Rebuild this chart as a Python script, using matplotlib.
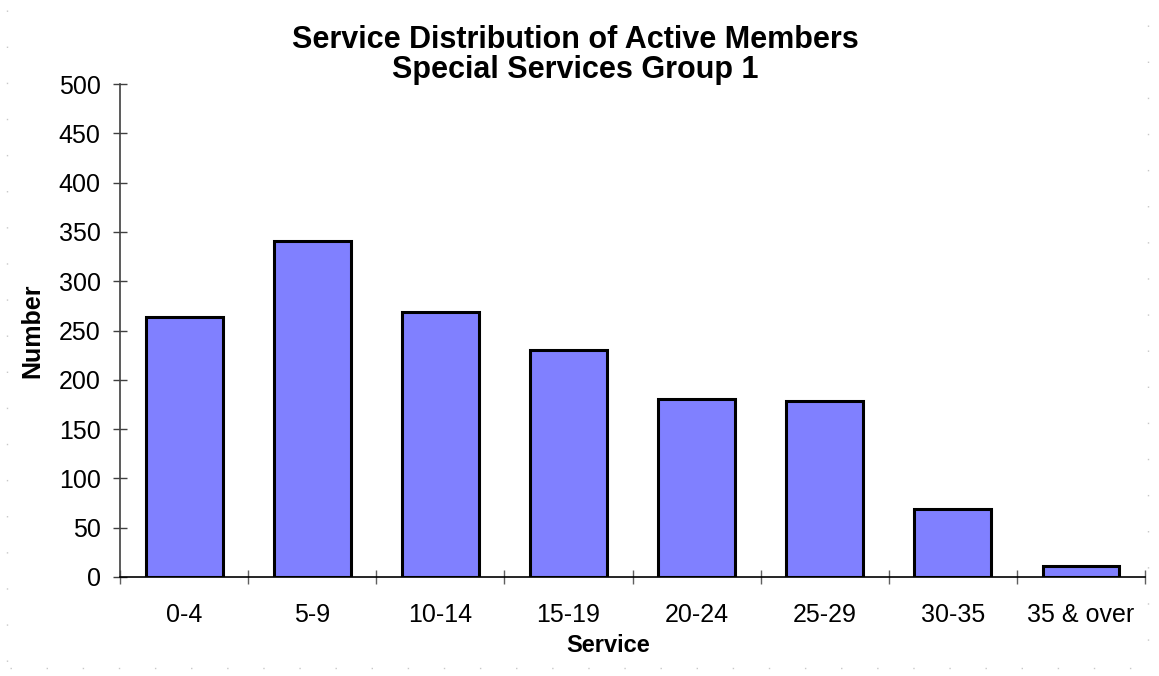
import matplotlib
matplotlib.use("Agg")
import matplotlib.pyplot as plt
from matplotlib.lines import Line2D

categories = ["0-4", "5-9", "10-14", "15-19", "20-24", "25-29", "30-35", "35 & over"]
values = [264, 341, 269, 230, 181, 179, 69, 11]
yticks = [0, 50, 100, 150, 200, 250, 300, 350, 400, 450, 500]

W, H = 1159, 676
plt.rcParams['font.family'] = ['Liberation Sans', 'DejaVu Sans']
fig = plt.figure(figsize=(W / 100, H / 100), dpi=100)
ax = fig.add_axes([120 / W, (H - 577) / H, (1145 - 120) / W, (577 - 84) / H])

x = list(range(len(categories)))
ax.bar(x, values, width=0.6, color="#8080FF", edgecolor="black", linewidth=2.2, zorder=3)

ax.set_xlim(-0.5, len(categories) - 0.5)
ax.set_ylim(0, 500)
ax.set_yticks(yticks)
ax.set_xticks(x)
ax.set_xticklabels(categories)
ax.set_xticks([i - 0.5 for i in range(len(categories) + 1)], minor=True)

for s in ["top", "right"]:
    ax.spines[s].set_visible(False)
ax.spines["left"].set_color("#404040")
ax.spines["left"].set_linewidth(1.2)
ax.spines["bottom"].set_color("black")
ax.spines["bottom"].set_linewidth(1.2)

ax.tick_params(axis="y", direction="inout", length=10, width=1.0, color="#404040",
               labelsize=18, pad=9)
ax.tick_params(axis="x", which="major", length=0, labelsize=18, pad=19)
ax.tick_params(axis="x", which="minor", direction="inout", length=10, width=1.0,
               color="#606060")

ax.set_xlabel("Service", fontsize=17, fontweight="bold")
ax.set_ylabel("Number", fontsize=18, fontweight="bold")
ax.xaxis.set_label_coords((608 - 120) / 1025, (577 - 645) / 493)
ax.xaxis.label.set_va("center")
ax.yaxis.set_label_coords((32 - 120) / 1025, 0.5)
ax.yaxis.label.set_va("center")

fig.text(575 / W, 1 - 55 / H, "Service Distribution of Active Members\nSpecial Services Group 1",
         ha="center", va="center", fontsize=22, fontweight="bold", linespacing=1.0)

# faint page gridlines
dot = dict(color="#c8c8c8", linewidth=1.0, linestyle=(0, (1, 25)))
fig.add_artist(Line2D([7 / W, 7 / W], [1 - 10 / H, 1 - 668 / H], transform=fig.transFigure, **dot))
fig.add_artist(Line2D([1148 / W, 1148 / W], [1 - 25 / H, 1 - 668 / H], transform=fig.transFigure, **dot))
fig.add_artist(Line2D([10 / W, 1148 / W], [1 - 668 / H, 1 - 668 / H], transform=fig.transFigure, **dot))

fig.savefig("out.png", dpi=100, facecolor="white")
